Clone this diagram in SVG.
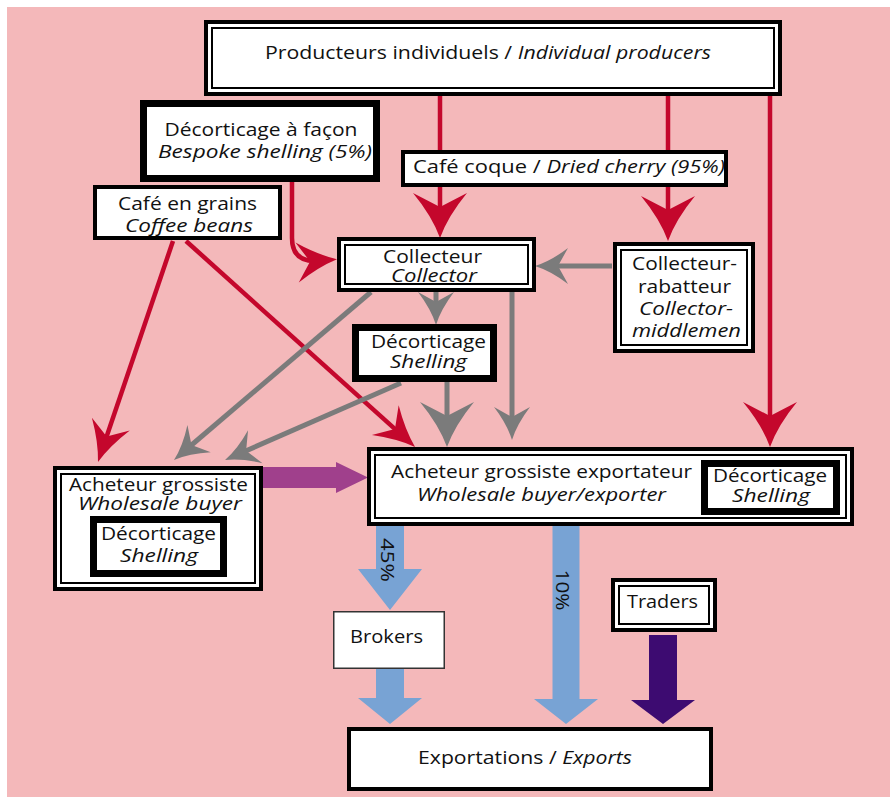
<svg xmlns="http://www.w3.org/2000/svg" width="890" height="797" viewBox="0 0 890 797">
<style>
text{font-family:"Open Sans","Liberation Sans",sans-serif;font-size:19px;fill:#111;text-anchor:middle}
.it{font-style:italic}
.dbo{fill:#fff;stroke:#000;stroke-width:4}
.dbi{fill:none;stroke:#000;stroke-width:2}
.thick{fill:#fff;stroke:#000;stroke-width:7}
.single{fill:#fff;stroke:#000;stroke-width:4}
.red{fill:none;stroke:#c4072c;stroke-width:4.5}
.gray{fill:none;stroke:#7b7b7b;stroke-width:5}
</style>
<defs>
<marker id="mRL" markerUnits="userSpaceOnUse" orient="auto" refX="-10" refY="0" markerWidth="60" markerHeight="60" overflow="visible"><path d="M0,0 Q-22,-8 -45,-27 L-31,0 L-45,27 Q-22,8 0,0 Z" fill="#c4072c"/></marker>
<marker id="mRM" markerUnits="userSpaceOnUse" orient="auto" refX="-10" refY="0" markerWidth="60" markerHeight="60" overflow="visible"><path d="M0,0 Q-19,-6 -40,-20 L-27,0 L-40,20 Q-19,6 0,0 Z" fill="#c4072c"/></marker>
<marker id="mGL" markerUnits="userSpaceOnUse" orient="auto" refX="-10" refY="0" markerWidth="60" markerHeight="60" overflow="visible"><path d="M0,0 Q-22,-8 -45,-27 L-31,0 L-45,27 Q-22,8 0,0 Z" fill="#7b7b7b"/></marker>
<marker id="mGS" markerUnits="userSpaceOnUse" orient="auto" refX="-10" refY="0" markerWidth="60" markerHeight="60" overflow="visible"><path d="M0,0 Q-16,-5 -33,-18 L-23,0 L-33,18 Q-16,5 0,0 Z" fill="#7b7b7b"/></marker>
</defs>
<rect x="7" y="7" width="883" height="790" fill="#f4b8ba"/>
<g id="connectors">
<line class="red" x1="440" y1="96" x2="440" y2="228" marker-end="url(#mRL)"/>
<line class="red" x1="668" y1="96" x2="668" y2="231" marker-end="url(#mRL)"/>
<line class="red" x1="770" y1="96" x2="770" y2="437" marker-end="url(#mRL)"/>
<path class="red" d="M292,182 V238 Q292,261 315,261 L327,260" marker-end="url(#mRM)"/>
<line class="red" x1="173" y1="241" x2="101.2" y2="452.5" marker-end="url(#mRM)"/>
<line class="red" x1="186" y1="241" x2="407.6" y2="440.3" marker-end="url(#mRM)"/>
<line class="gray" x1="612" y1="266" x2="545" y2="266" marker-end="url(#mGS)"/>
<line class="gray" x1="436" y1="292" x2="436" y2="315" marker-end="url(#mGS)"/>
<line class="gray" x1="512" y1="292" x2="512" y2="430" marker-end="url(#mGS)"/>
<line class="gray" x1="447" y1="382" x2="447" y2="437" marker-end="url(#mGL)"/>
<line class="gray" x1="371" y1="292" x2="181.6" y2="453.5" marker-end="url(#mGS)"/>
<line class="gray" x1="401" y1="383" x2="234.2" y2="456" marker-end="url(#mGS)"/>
<polygon points="263,467 336,467 336,462 368,477.5 336,493 336,488 263,488" fill="#a0408c"/>
<polygon points="376,526 404,526 404,569 422,569 390,610 358,569 376,569" fill="#78a3d4"/>
<polygon points="376,669 404,669 404,698 422,698 390,724 358,698 376,698" fill="#78a3d4"/>
<polygon points="552.5,526 579.5,526 579.5,699 598,699 566,724 534,699 552.5,699" fill="#78a3d4"/>
<polygon points="649,635 677,635 677,700 695,700 663,724 631,700 649,700" fill="#3d0b71"/>
<text transform="translate(381,560) rotate(90)" textLength="44" lengthAdjust="spacingAndGlyphs">45%</text>
<text transform="translate(556,590) rotate(90)" textLength="41" lengthAdjust="spacingAndGlyphs">10%</text>
</g>
<g id="producteurs">
<rect class="dbo" x="206" y="22" width="574" height="72"/>
<rect class="dbi" x="212" y="28" width="562" height="60"/>
<text x="488" y="59" textLength="446" lengthAdjust="spacingAndGlyphs">Producteurs individuels / <tspan class="it">Individual producers</tspan></text>
</g>
<g id="decorticage-facon">
<rect class="thick" x="143.5" y="103.5" width="233" height="75"/>
<text x="261" y="136" textLength="193" lengthAdjust="spacingAndGlyphs">Décorticage à façon</text>
<text class="it" x="265" y="158" textLength="214" lengthAdjust="spacingAndGlyphs">Bespoke shelling (5%)</text>
</g>
<g id="cafe-grains">
<rect class="single" x="95" y="187" width="185" height="51"/>
<text x="187.5" y="210" textLength="139" lengthAdjust="spacingAndGlyphs">Café en grains</text>
<text class="it" x="189" y="232" textLength="128" lengthAdjust="spacingAndGlyphs">Coffee beans</text>
</g>
<g id="cafe-coque">
<rect class="single" x="403" y="152" width="323" height="33"/>
<text x="569" y="173" textLength="312" lengthAdjust="spacingAndGlyphs">Café coque / <tspan class="it">Dried cherry (95%)</tspan></text>
</g>
<g id="collecteur">
<rect class="dbo" x="339" y="239" width="195" height="51"/>
<rect class="dbi" x="345" y="245" width="183" height="39"/>
<text x="432.5" y="263" textLength="99" lengthAdjust="spacingAndGlyphs">Collecteur</text>
<text class="it" x="434" y="282" textLength="86" lengthAdjust="spacingAndGlyphs">Collector</text>
</g>
<g id="collecteur-rabatteur">
<rect class="dbo" x="615" y="244" width="138" height="107"/>
<rect class="dbi" x="621" y="250" width="126" height="95"/>
<text x="684.5" y="270" textLength="105" lengthAdjust="spacingAndGlyphs">Collecteur-</text>
<text x="684.5" y="293" textLength="93" lengthAdjust="spacingAndGlyphs">rabatteur</text>
<text class="it" x="686" y="315" textLength="94" lengthAdjust="spacingAndGlyphs">Collector-</text>
<text class="it" x="686.5" y="337" textLength="109" lengthAdjust="spacingAndGlyphs">middlemen</text>
</g>
<g id="decorticage">
<rect class="thick" x="355.5" y="327.5" width="138" height="51"/>
<text x="428.5" y="348" textLength="115" lengthAdjust="spacingAndGlyphs">Décorticage</text>
<text class="it" x="428.5" y="368" textLength="77" lengthAdjust="spacingAndGlyphs">Shelling</text>
</g>
<g id="acheteur-grossiste">
<rect class="dbo" x="55" y="468" width="206" height="121"/>
<rect class="dbi" x="61" y="474" width="194" height="109"/>
<text x="158.5" y="491" textLength="179" lengthAdjust="spacingAndGlyphs">Acheteur grossiste</text>
<text class="it" x="160" y="510" textLength="164" lengthAdjust="spacingAndGlyphs">Wholesale buyer</text>
<rect class="thick" x="93.5" y="519.5" width="130" height="54"/>
<text x="158.5" y="540" textLength="115" lengthAdjust="spacingAndGlyphs">Décorticage</text>
<text class="it" x="159" y="562" textLength="78" lengthAdjust="spacingAndGlyphs">Shelling</text>
</g>
<g id="acheteur-exportateur">
<rect class="dbo" x="369" y="449" width="483" height="75"/>
<rect class="dbi" x="375" y="455" width="471" height="63"/>
<text x="541.5" y="478" textLength="301" lengthAdjust="spacingAndGlyphs">Acheteur grossiste exportateur</text>
<text class="it" x="541.5" y="501" textLength="249" lengthAdjust="spacingAndGlyphs">Wholesale buyer/exporter</text>
<rect class="thick" x="704.5" y="463.5" width="132" height="48"/>
<text x="770" y="482" textLength="114" lengthAdjust="spacingAndGlyphs">Décorticage</text>
<text class="it" x="771" y="502" textLength="78" lengthAdjust="spacingAndGlyphs">Shelling</text>
</g>
<g id="brokers">
<rect x="333.75" y="611.75" width="110.5" height="56.5" fill="#fff" stroke="#333" stroke-width="1.5"/>
<text x="386.5" y="643" textLength="73" lengthAdjust="spacingAndGlyphs">Brokers</text>
</g>
<g id="traders">
<rect class="dbo" x="613" y="580" width="102" height="50"/>
<rect class="dbi" x="619" y="586" width="90" height="38"/>
<text x="662.5" y="608" textLength="71" lengthAdjust="spacingAndGlyphs">Traders</text>
</g>
<g id="exportations">
<rect class="single" x="349" y="729" width="362" height="60"/>
<text x="525" y="764" textLength="214" lengthAdjust="spacingAndGlyphs">Exportations / <tspan class="it">Exports</tspan></text>
</g>
</svg>
